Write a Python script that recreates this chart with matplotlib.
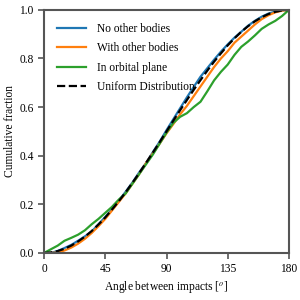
import matplotlib
matplotlib.use("Agg")
import matplotlib.pyplot as plt

angles = [0, 5, 10, 15, 20, 25, 30, 35, 40, 45, 50, 55, 60, 65, 70, 75, 80, 85, 90,
          95, 100, 105, 110, 115, 120, 125, 130, 135, 140, 145, 150, 155, 160, 165,
          170, 175, 180]

no_other = [0, 0.0, 0.008, 0.02, 0.033, 0.05, 0.068, 0.088, 0.118, 0.148, 0.18, 0.215,
            0.252, 0.29, 0.332, 0.37, 0.415, 0.458, 0.505, 0.55, 0.595, 0.64, 0.683,
            0.725, 0.76, 0.795, 0.828, 0.858, 0.886, 0.91, 0.935, 0.955, 0.972, 0.985,
            0.993, 0.998, 1.0]

with_other = [0, 0, 0.002, 0.01, 0.022, 0.038, 0.058, 0.082, 0.11, 0.14, 0.175, 0.21,
              0.245, 0.285, 0.325, 0.37, 0.41, 0.45, 0.492, 0.53, 0.57, 0.605, 0.645,
              0.685, 0.725, 0.765, 0.8, 0.83, 0.865, 0.89, 0.915, 0.94, 0.962, 0.978,
              0.99, 0.997, 1.0]

orbital = [0, 0.015, 0.03, 0.05, 0.062, 0.075, 0.093, 0.118, 0.14, 0.165, 0.19, 0.22,
           0.245, 0.285, 0.325, 0.365, 0.405, 0.45, 0.495, 0.535, 0.56, 0.575, 0.6,
           0.622, 0.665, 0.71, 0.745, 0.775, 0.815, 0.848, 0.87, 0.895, 0.922, 0.94,
           0.955, 0.975, 1.0]

uniform = [0, 0.0019, 0.0076, 0.017, 0.030, 0.047, 0.067, 0.090, 0.117, 0.146, 0.179,
           0.213, 0.25, 0.289, 0.329, 0.371, 0.413, 0.456, 0.5, 0.544, 0.587, 0.629,
           0.671, 0.711, 0.75, 0.787, 0.821, 0.854, 0.883, 0.910, 0.933, 0.953, 0.970,
           0.983, 0.992, 0.998, 1.0]

xticks = [0, 45, 90, 135, 180]
yticks = [0.0, 0.2, 0.4, 0.6, 0.8, 1.0]

plt.rcParams['font.family'] = ['Liberation Serif', 'DejaVu Serif']
plt.rcParams['mathtext.fontset'] = 'stix'

fig = plt.figure(figsize=(3, 3), dpi=100)
ax = fig.add_axes([0.147, 0.157, 0.816, 0.81])

ax.plot(angles, no_other, color='#1f77b4', lw=1.6, label='No other bodies')
ax.plot(angles, with_other, color='#ff7f0e', lw=1.6, label='With other bodies')
ax.plot(angles, orbital, color='#2ca02c', lw=1.6, label='In orbital plane')
ax.plot(angles, uniform, color='black', lw=1.6, ls='--', label='Uniform Distribution')

ax.set_xlim(0, 180)
ax.set_ylim(0, 1)
ax.set_xticks(xticks)
ax.set_yticks(yticks)
ax.set_xticklabels([str(t) for t in xticks], fontsize=8.3)
ax.set_yticklabels([f"{t:.1f}" for t in yticks], fontsize=8.3)
ax.set_xlabel('Angle between impacts [$^o$]', fontsize=8.3, labelpad=3)
ax.set_ylabel('Cumulative fraction', fontsize=8.3, labelpad=2)

for s in ax.spines.values():
    s.set_color('#555555')
    s.set_linewidth(1.5)
ax.tick_params(direction='out', length=4, width=1.2, color='#555555', pad=3.5)

ax.legend(loc='upper left', frameon=False, fontsize=8.3, handlelength=2.5,
          handletextpad=1.0, borderaxespad=0.7, labelspacing=0.65)

fig.savefig('out.png', dpi=100)
